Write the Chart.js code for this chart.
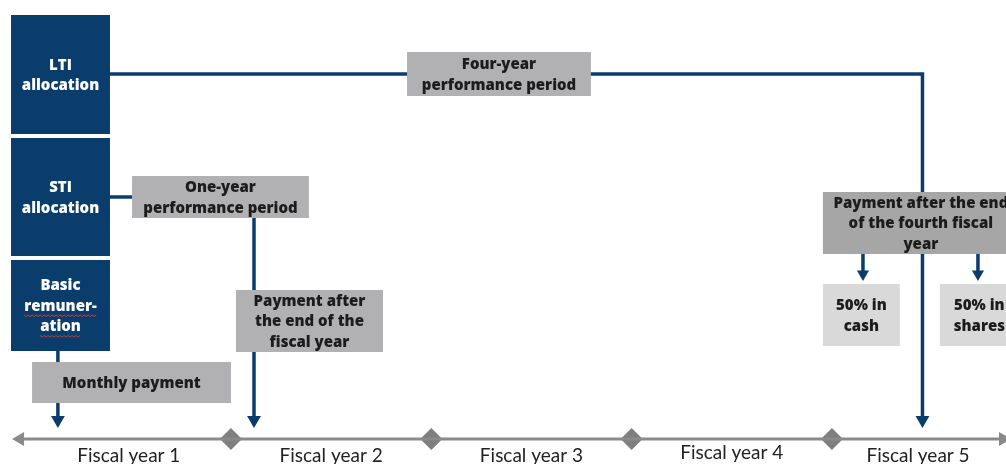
<!DOCTYPE html>
<html>
<head>
<meta charset="utf-8">
<title>Remuneration timeline</title>
<script src="https://cdn.jsdelivr.net/npm/chart.js@4.4.1/dist/chart.umd.min.js"></script>
<style>
  html, body { margin: 0; padding: 0; background: #fff; }
  #wrap { width: 1006px; height: 464px; position: relative; }
</style>
</head>
<body>
<div id="wrap"><canvas id="chart"></canvas></div>
<script>
// x is measured in fiscal years (0 = start of year 1), y in levels above the timeline
const yearLabels = ["Fiscal year 1", "Fiscal year 2", "Fiscal year 3", "Fiscal year 4", "Fiscal year 5"];
const yearLabelX = [0.49, 1.5, 2.5, 3.5, 4.43];
const yearLabelY = [-2.3, -2.3, -2.3, -2.0, -2.3];
const yearEnds = [1, 2, 3, 4];

const boxTexts = [
  ["LTI", "allocation"],
  ["STI", "allocation"],
  ["Basic", "remuner-", "ation"],
  ["Four-year", "performance period"],
  ["One-year", "performance period"],
  ["Payment after", "the end of the", "fiscal year"],
  ["Monthly payment"],
  ["Payment after the end", "of the fourth fiscal", "year"],
  ["50% in", "cash"],
  ["50% in", "shares"]
];
const boxKinds = ["navy", "navy", "navy", "grey", "grey", "grey", "grey", "dark", "light", "light"];
const boxLeft = [-0.098, -0.098, -0.098, 1.879, 0.506, 1.025, 0.007, 3.955, 3.955, 4.539];
const boxRight = [0.396, 0.396, 0.396, 2.797, 1.389, 1.759, 1.0, 4.933, 4.339, 4.933];
const boxTop = [42.4, 30.1, 17.9, 38.7, 26.3, 14.9, 7.7, 24.7, 15.5, 15.5];
const boxBottom = [30.5, 18.3, 8.8, 34.3, 22.1, 8.7, 3.6, 18.5, 9.3, 9.3];

// connector lines
const ltiFlow = [{ x: 0.396, y: 36.5 }, { x: 4.452, y: 36.5 }, { x: 4.452, y: 1.9 }];
const stiLink = [{ x: 0.396, y: 24.2 }, { x: 0.506, y: 24.2 }];
const stiFlow = [{ x: 1.115, y: 22.1 }, { x: 1.115, y: 1.9 }];
const basicFlow = [{ x: 0.136, y: 8.8 }, { x: 0.136, y: 1.9 }];
const cashFlow = [{ x: 4.155, y: 18.5 }, { x: 4.155, y: 16.5 }];
const sharesFlow = [{ x: 4.729, y: 18.5 }, { x: 4.729, y: 16.5 }];
const bigHeads = [{ x: 0.136, y: 1.9 }, { x: 1.115, y: 1.9 }, { x: 4.452, y: 1.9 }];
const smallHeads = [{ x: 4.155, y: 16.5 }, { x: 4.729, y: 16.5 }];
const timeline = [{ x: -0.053, y: 0 }, { x: 4.854, y: 0 }];

const NAVY = "#0b3d6c";
const GREY_LINE = "#8a8a8a";
const boxFill = { navy: "#0b3d6c", grey: "#b1b0b3", dark: "#a6a6a6", light: "#d9d9d9" };
const boxInk = { navy: "#ffffff", grey: "#1c1c1c", dark: "#1c1c1c", light: "#1c1c1c" };

function flow(data, color, width) {
  return {
    data,
    showLine: true,
    borderColor: color,
    borderWidth: width,
    pointRadius: 0,
    borderCapStyle: "butt",
    borderJoinStyle: "miter",
    clip: false
  };
}

function heads(data, color, radius, rotation) {
  return {
    data,
    showLine: false,
    pointStyle: "triangle",
    pointRadius: radius,
    pointRotation: rotation,
    pointBackgroundColor: color,
    pointBorderWidth: 0,
    clip: false
  };
}

const boxPlugin = {
  id: "boxes",
  afterDatasetsDraw(chart) {
    const { ctx, scales: { x, y } } = chart;
    ctx.save();

    boxTexts.forEach((lines, i) => {
      const kind = boxKinds[i];
      const left = x.getPixelForValue(boxLeft[i]);
      const right = x.getPixelForValue(boxRight[i]);
      const top = y.getPixelForValue(boxTop[i]);
      const bottom = y.getPixelForValue(boxBottom[i]);

      ctx.fillStyle = boxFill[kind];
      ctx.fillRect(left, top, right - left, bottom - top);

      const cx = (left + right) / 2;
      const cy = (top + bottom) / 2 + 1;
      const lh = 20.5;
      ctx.font = "800 15px 'Open Sans'";
      ctx.fillStyle = boxInk[kind];
      ctx.textAlign = "center";
      ctx.textBaseline = "middle";
      lines.forEach((line, j) => {
        const ty = cy + (j - (lines.length - 1) / 2) * lh;
        ctx.fillText(line, cx, ty);

        // spell-check squiggle under the hyphenated word
        if (kind === "navy" && j > 0 && lines[0] === "Basic") {
          const w = ctx.measureText(line).width;
          ctx.strokeStyle = "#d23a3a";
          ctx.lineWidth = 1;
          ctx.beginPath();
          for (let k = 0; k <= w; k += 2) {
            const px = cx - w / 2 + k;
            const py = ty + 9 + ((k / 2) % 2 ? 1 : -0.5);
            if (k === 0) ctx.moveTo(px, py); else ctx.lineTo(px, py);
          }
          ctx.stroke();
          ctx.fillStyle = boxInk[kind];
        }
      });
    });

    ctx.font = "19px Lato";
    ctx.fillStyle = "#222222";
    ctx.textAlign = "center";
    ctx.textBaseline = "alphabetic";
    yearLabels.forEach((label, i) => {
      ctx.fillText(label, x.getPixelForValue(yearLabelX[i]), y.getPixelForValue(yearLabelY[i]));
    });

    ctx.restore();
  }
};

new Chart(document.getElementById("chart"), {
  type: "scatter",
  data: {
    datasets: [
      flow(timeline, GREY_LINE, 3),
      heads([timeline[0]], GREY_LINE, 8, 270),
      heads([timeline[1]], GREY_LINE, 8, 90),
      {
        data: yearEnds.map(v => ({ x: v, y: 0 })),
        pointStyle: "rectRot",
        pointRadius: 11,
        pointBackgroundColor: "#7f7f7f",
        pointBorderWidth: 0,
        clip: false
      },
      flow(ltiFlow, NAVY, 3.5),
      flow(stiLink, NAVY, 3.5),
      flow(stiFlow, NAVY, 3.5),
      flow(basicFlow, NAVY, 3.5),
      flow(cashFlow, NAVY, 3.5),
      flow(sharesFlow, NAVY, 3.5),
      heads(bigHeads, NAVY, 8, 180),
      heads(smallHeads, NAVY, 7, 180)
    ]
  },
  options: {
    responsive: true,
    maintainAspectRatio: false,
    animation: false,
    events: [],
    layout: { padding: 0, autoPadding: false },
    plugins: {
      legend: { display: false },
      tooltip: { enabled: false }
    },
    scales: {
      x: { type: "linear", min: -0.153, max: 4.869, display: false },
      y: { type: "linear", min: -2.5, max: 43.9, display: false }
    }
  },
  plugins: [boxPlugin]
});
</script>
</body>
</html>
